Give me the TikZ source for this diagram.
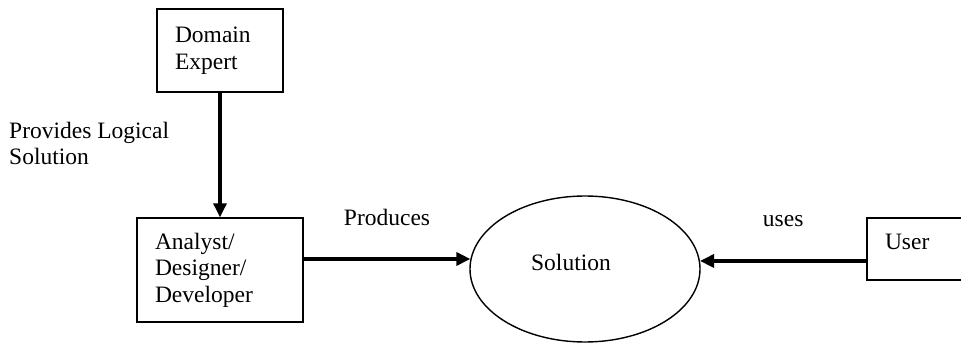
\documentclass[tikz,border=0pt]{standalone}
\usepackage{fontspec}
\setmainfont{Liberation Serif}
\usetikzlibrary{arrows.meta, shapes.geometric}

\begin{document}
\begin{tikzpicture}[x=1pt, y=1pt,
  every node/.style={font=\fontsize{23.5pt}{26.5pt}\selectfont},
  box/.style={draw, line width=1.4pt, inner xsep=18pt, inner ysep=0pt, align=left},
  flow/.style={line width=3.3pt, -{Triangle[length=14pt, width=13pt]}}]
\useasboundingbox (0,0) rectangle (961,343);

\node[box, text width=90pt, minimum height=83pt] (expert) at (220,292.5) {Domain\\Expert};
\node[box, text width=130pt, minimum height=104pt] (analyst) at (220,73) {Analyst/\\Designer/\\Developer};
\node[draw, ellipse, line width=1.4pt, inner sep=0pt, minimum width=230pt, minimum height=146pt] (sol) at (585,74) {};
\node[anchor=base] (soltext) at (571,73) {Solution};
\node[box, text width=84pt, minimum height=62pt, text depth=14pt] (user) at (927,94) {User};
\node[align=left, anchor=north west, inner sep=0pt] (provides) at (9,221.5) {Provides Logical\\Solution};

\draw[flow] (expert) -- (analyst);
\draw[flow] (analyst.east |- sol.175.5) -- (sol.175.5) node[midway, above=28pt] {Produces};
\draw[flow] (user.west |- sol.4.5) -- (sol.4.5) node[midway, above=29pt] {uses};
\end{tikzpicture}
\end{document}
